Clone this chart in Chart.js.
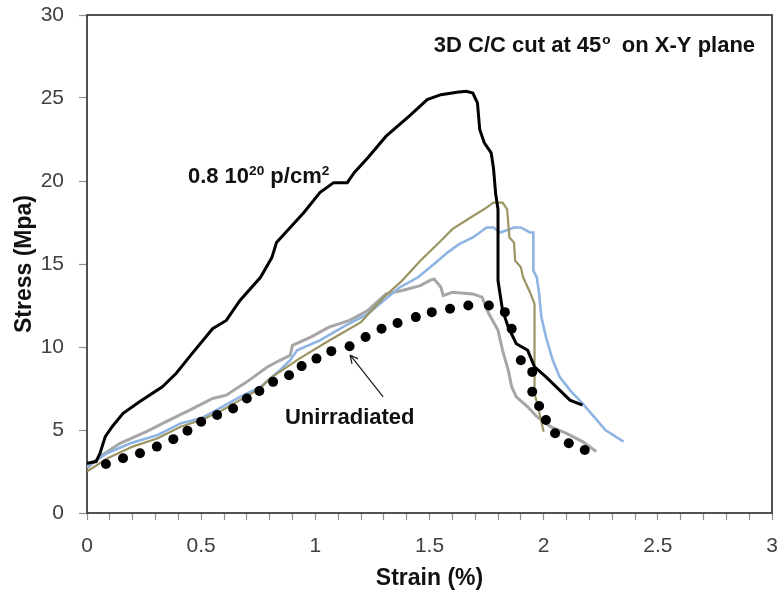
<!DOCTYPE html>
<html>
<head>
<meta charset="utf-8">
<script src="https://cdn.jsdelivr.net/npm/chart.js@4.4.1/dist/chart.umd.min.js"></script>
<style>
  html, body { margin: 0; padding: 0; background: #fff; }
  #wrap { width: 779px; height: 594px; }
</style>
</head>
<body>
<div id="wrap"><canvas id="myChart" width="779" height="594"></canvas></div>
<script>
// valores (strain %, stress MPa)
const negroX = [0, 0.04, 0.057, 0.08, 0.11, 0.158, 0.23, 0.33, 0.39, 0.46, 0.55, 0.61, 0.67, 0.76, 0.81, 0.83, 0.89, 0.95, 1.02, 1.08, 1.14, 1.17, 1.23, 1.31, 1.41, 1.49, 1.55, 1.62, 1.66, 1.69, 1.70, 1.71, 1.72, 1.74, 1.77, 1.78, 1.79, 1.80, 1.80, 1.82, 1.845, 1.88, 1.93, 1.96, 2.01, 2.07, 2.115, 2.17];
const negroY = [3.0, 3.1, 3.6, 4.6, 5.2, 6.0, 6.7, 7.6, 8.4, 9.6, 11.1, 11.6, 12.8, 14.2, 15.4, 16.3, 17.2, 18.1, 19.3, 19.9, 19.9, 20.5, 21.4, 22.7, 23.9, 24.9, 25.2, 25.35, 25.4, 25.3, 25.0, 24.7, 23.1, 22.3, 21.7, 20.8, 19.2, 18.3, 14.0, 12.2, 11.2, 10.2, 9.8, 8.8, 8.2, 7.4, 6.8, 6.5];

const olivaX = [0, 0.09, 0.2, 0.31, 0.41, 0.5, 0.58, 0.67, 0.76, 0.80, 0.93, 1.05, 1.20, 1.30, 1.38, 1.46, 1.55, 1.60, 1.68, 1.75, 1.78, 1.82, 1.84, 1.85, 1.87, 1.875, 1.90, 1.91, 1.94, 1.96, 1.96, 1.975, 2.0];
const olivaY = [2.5, 3.3, 4.0, 4.5, 5.2, 5.6, 6.1, 6.8, 7.5, 8.1, 9.3, 10.3, 11.5, 13.0, 14.0, 15.2, 16.4, 17.1, 17.8, 18.4, 18.7, 18.7, 18.3, 16.6, 16.3, 15.2, 14.8, 14.2, 13.3, 12.6, 7.2, 6.4, 4.9];

const azulX = [0, 0.088, 0.19, 0.31, 0.41, 0.5, 0.58, 0.67, 0.76, 0.845, 0.89, 0.92, 1.02, 1.12, 1.23, 1.30, 1.37, 1.45, 1.52, 1.58, 1.63, 1.69, 1.75, 1.78, 1.81, 1.87, 1.90, 1.94, 1.955, 1.955, 1.97, 1.98, 1.99, 2.01, 2.04, 2.07, 2.115, 2.17, 2.22, 2.27, 2.35];
const azulY = [2.8, 3.6, 4.2, 4.7, 5.4, 5.7, 6.3, 7.0, 7.6, 8.6, 9.2, 9.8, 10.4, 11.2, 12.0, 12.8, 13.6, 14.2, 15.0, 15.7, 16.2, 16.6, 17.2, 17.2, 16.9, 17.2, 17.2, 16.9, 16.9, 14.6, 14.2, 13.2, 11.8, 10.6, 9.2, 8.2, 7.4, 6.6, 5.8, 5.0, 4.3];

const grisX = [0, 0.057, 0.145, 0.26, 0.36, 0.45, 0.55, 0.61, 0.70, 0.79, 0.845, 0.89, 0.90, 0.98, 1.06, 1.15, 1.23, 1.31, 1.38, 1.46, 1.50, 1.52, 1.55, 1.56, 1.60, 1.69, 1.73, 1.76, 1.80, 1.82, 1.845, 1.86, 1.88, 1.93, 1.97, 2.03, 2.10, 2.17, 2.23];
const grisY = [2.7, 3.4, 4.2, 4.9, 5.6, 6.2, 6.9, 7.1, 7.9, 8.8, 9.2, 9.5, 10.1, 10.6, 11.2, 11.6, 12.2, 13.2, 13.4, 13.7, 14.0, 14.1, 13.6, 13.1, 13.3, 13.2, 13.0, 12.0, 11.0, 9.8, 8.6, 7.6, 7.0, 6.4, 5.8, 5.2, 4.8, 4.3, 3.7];

const puntosX = [0.083, 0.158, 0.232, 0.306, 0.378, 0.44, 0.50, 0.57, 0.64, 0.70, 0.755, 0.815, 0.885, 0.94, 1.005, 1.07, 1.15, 1.22, 1.29, 1.36, 1.44, 1.51, 1.59, 1.67, 1.76, 1.83, 1.86, 1.90, 1.95, 1.95, 1.98, 2.01, 2.05, 2.11, 2.18];
const puntosY = [2.95, 3.3, 3.6, 4.0, 4.45, 4.95, 5.5, 5.9, 6.3, 6.9, 7.35, 7.9, 8.3, 8.85, 9.3, 9.75, 10.05, 10.6, 11.1, 11.45, 11.8, 12.1, 12.3, 12.5, 12.5, 12.1, 11.1, 9.2, 8.5, 7.3, 6.45, 5.6, 4.8, 4.2, 3.8];

const ticksY = [0, 5, 10, 15, 20, 25, 30];
const ticksX = [0, 0.5, 1, 1.5, 2, 2.5, 3];

const titulo = "3D C/C cut at 45";
const etiquetaDosis = "0.8 10";
const etiquetaNoIrr = "Unirradiated";

const unir = (xs, ys) => xs.map((x, i) => ({ x: x, y: ys[i] }));

const fuente = "'Liberation Sans', Arial, sans-serif";

// textos, flecha y marco del grafico
const extras = {
    id: 'extras',
    beforeDatasetsDraw(chart) {
        const { ctx, chartArea } = chart;
        ctx.save();
        ctx.strokeStyle = '#404040';
        ctx.lineWidth = 1.8;
        ctx.strokeRect(chartArea.left, chartArea.top, chartArea.right - chartArea.left, chartArea.bottom - chartArea.top);
        ctx.restore();
    },
    afterDatasetsDraw(chart) {
        const { ctx } = chart;
        const sx = chart.scales.x, sy = chart.scales.y;
        ctx.save();
        ctx.fillStyle = '#111';
        ctx.textBaseline = 'alphabetic';

        // titulo arriba a la derecha
        const f = 22;
        ctx.font = `bold ${f}px ${fuente}`;
        const resto = "  on X-Y plane";
        const wResto = ctx.measureText(resto).width;
        const wTit = ctx.measureText(titulo).width;
        ctx.font = `bold ${f * 0.62}px ${fuente}`;
        const wSup = ctx.measureText("o").width;
        let xr = sx.getPixelForValue(2.926);
        let yb = sy.getPixelForValue(27.75);
        let x0 = xr - wResto - wSup - wTit;
        ctx.font = `bold ${f}px ${fuente}`;
        ctx.fillText(titulo, x0, yb);
        ctx.font = `bold ${f * 0.62}px ${fuente}`;
        ctx.fillText("o", x0 + wTit + 1, yb - f * 0.38);
        ctx.font = `bold ${f}px ${fuente}`;
        ctx.fillText(resto, x0 + wTit + wSup, yb);

        // etiqueta de dosis con superindices
        let x = sx.getPixelForValue(0.442);
        let y = sy.getPixelForValue(19.88);
        const partes = [[etiquetaDosis, false], ["20", true], [" p/cm", false], ["2", true]];
        partes.forEach(([t, sup]) => {
            ctx.font = sup ? `bold ${f * 0.62}px ${fuente}` : `bold ${f}px ${fuente}`;
            ctx.fillText(t, x, sup ? y - f * 0.38 : y);
            x += ctx.measureText(t).width;
        });

        // Unirradiated
        ctx.font = `bold ${f}px ${fuente}`;
        ctx.textBaseline = 'middle';
        ctx.fillText(etiquetaNoIrr, sx.getPixelForValue(0.867), sy.getPixelForValue(5.72));

        // flecha
        const px1 = sx.getPixelForValue(1.297), py1 = sy.getPixelForValue(6.99);
        const px2 = sx.getPixelForValue(1.152), py2 = sy.getPixelForValue(9.52);
        ctx.strokeStyle = '#222';
        ctx.lineWidth = 1.3;
        ctx.beginPath();
        ctx.moveTo(px1, py1);
        ctx.lineTo(px2, py2);
        const ang = Math.atan2(py2 - py1, px2 - px1);
        ctx.moveTo(px2, py2);
        ctx.lineTo(px2 - 9 * Math.cos(ang - 0.45), py2 - 9 * Math.sin(ang - 0.45));
        ctx.moveTo(px2, py2);
        ctx.lineTo(px2 - 9 * Math.cos(ang + 0.45), py2 - 9 * Math.sin(ang + 0.45));
        ctx.stroke();
        ctx.restore();
    }
};

const ctx = document.getElementById('myChart').getContext('2d');
const linea = (datos, color, ancho, orden) => ({
    data: datos,
    showLine: true,
    borderColor: color,
    borderWidth: ancho,
    pointRadius: 0,
    fill: false,
    tension: 0,
    order: orden
});

const myChart = new Chart(ctx, {
    type: 'scatter',
    data: {
        datasets: [
            {
                data: unir(puntosX, puntosY),
                showLine: false,
                pointRadius: 5,
                pointBackgroundColor: '#000',
                pointBorderWidth: 0,
                order: 0
            },
            linea(unir(negroX, negroY), '#000000', 3, 1),
            linea(unir(olivaX, olivaY), '#9c9462', 2.2, 2),
            linea(unir(azulX, azulY), '#8db4e2', 2.6, 3),
            linea(unir(grisX, grisY), '#a6a6a6', 3, 4)
        ]
    },
    options: {
        responsive: false,
        animation: false,
        devicePixelRatio: 1,
        layout: { padding: { left: 0, right: 7, top: 15, bottom: 0 } },
        plugins: { legend: { display: false }, tooltip: { enabled: false } },
        scales: {
            x: {
                type: 'linear',
                min: 0,
                max: 3,
                afterFit: (s) => { s.height = 81; s.paddingLeft = 0; s.paddingRight = 0; },
                afterBuildTicks: (s) => {
                    const lista = [];
                    for (let i = 0; i <= 30; i++) lista.push({ value: i / 10 });
                    s.ticks = lista;
                },
                border: { display: false },
                grid: { display: true, drawOnChartArea: false, drawTicks: true, tickLength: 7, tickColor: '#909090', tickWidth: 1.2 },
                ticks: {
                    padding: 14,
                    maxRotation: 0,
                    autoSkip: false,
                    color: '#404040',
                    font: { family: fuente, size: 21 },
                    callback: (v) => {
                        const r = Math.round(v * 10);
                        return r % 5 === 0 ? String(ticksX.find(t => Math.round(t * 10) === r)) : '';
                    }
                },
                title: {
                    display: true,
                    text: 'Strain (%)',
                    color: '#111',
                    font: { family: fuente, size: 23, weight: 'bold', lineHeight: 1.2 },
                    padding: { top: 0, bottom: 2 }
                }
            },
            y: {
                type: 'linear',
                min: 0,
                max: 30,
                afterFit: (s) => { s.width = 87; s.paddingTop = 0; s.paddingBottom = 0; },
                afterBuildTicks: (s) => { s.ticks = ticksY.map(v => ({ value: v })); },
                border: { display: false },
                grid: { display: true, drawOnChartArea: false, drawTicks: true, tickLength: 8, tickColor: '#909090', tickWidth: 1.2 },
                ticks: {
                    padding: 15,
                    color: '#404040',
                    font: { family: fuente, size: 21 }
                },
                title: {
                    display: true,
                    text: 'Stress (Mpa)',
                    color: '#111',
                    font: { family: fuente, size: 23, weight: 'bold', lineHeight: 1.2 },
                    padding: { top: 11, bottom: 0 }
                }
            }
        }
    },
    plugins: [extras]
});
</script>
</body>
</html>
